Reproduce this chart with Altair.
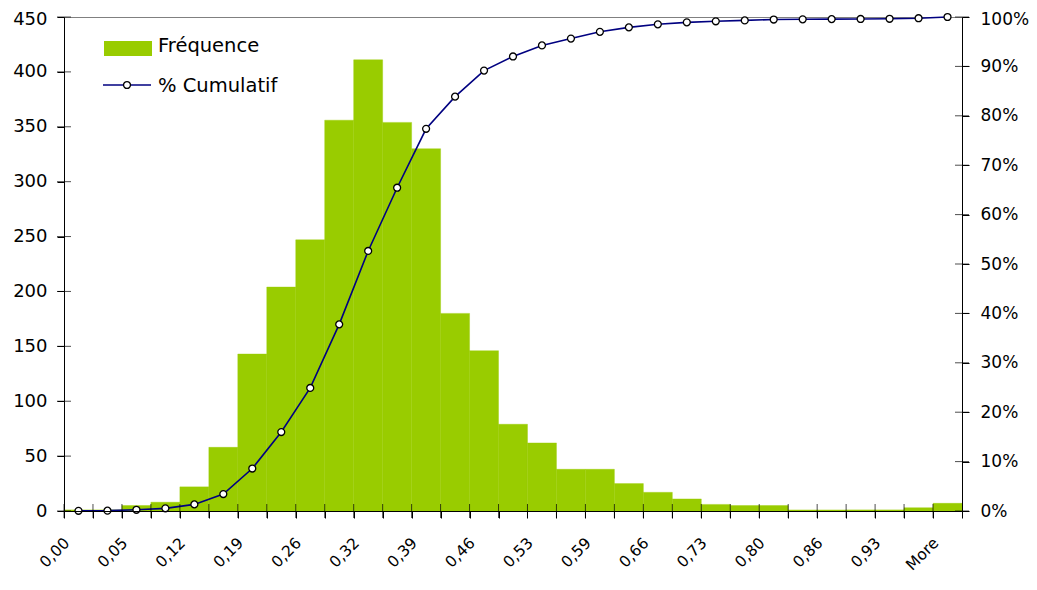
import json
import altair as alt
import pandas as pd

# ---- data ----
bins = ["0,00", "0,02", "0,05", "0,09", "0,12", "0,15", "0,19", "0,22", "0,26", "0,29",
        "0,32", "0,36", "0,39", "0,42", "0,46", "0,49", "0,53", "0,56", "0,59", "0,63",
        "0,66", "0,69", "0,73", "0,76", "0,80", "0,83", "0,86", "0,90", "0,93", "0,97", "More"]
shown_labels = ["0,00", "0,05", "0,12", "0,19", "0,26", "0,32", "0,39", "0,46", "0,53",
                "0,59", "0,66", "0,73", "0,80", "0,86", "0,93", "More"]
freq = [1, 1, 5, 8, 22, 58, 143, 204, 247, 356, 411, 354, 330, 180, 146, 79, 62, 38, 38,
        25, 17, 11, 6, 5, 5, 1, 1, 1, 1, 3, 7]
cum_pct = [0.0004, 0.0007, 0.0025, 0.0054, 0.0134, 0.0343, 0.0860, 0.1598, 0.2491, 0.3778,
           0.5264, 0.6544, 0.7737, 0.8388, 0.8915, 0.9201, 0.9425, 0.9563, 0.9700, 0.9790,
           0.9852, 0.9892, 0.9913, 0.9931, 0.9949, 0.9953, 0.9957, 0.9960, 0.9964, 0.9975, 1.0]
count_ticks = [0, 50, 100, 150, 200, 250, 300, 350, 400, 450]
pct_ticks = [i / 10 for i in range(11)]
legend_labels = ["Fréquence", "% Cumulatif"]

FONT = "DejaVu Sans"
GREEN = "#99CC00"
NAVY = "#000080"
W, H = 898, 494

df = pd.DataFrame({"bin": bins, "freq": freq, "cum": cum_pct})
df_ct = pd.DataFrame({"v": count_ticks})
df_pt = pd.DataFrame({"v": pct_ticks})

xscale = alt.Scale(type="band", domain=bins, paddingInner=0, paddingOuter=0)
yscale = alt.Scale(domain=[0, 450], nice=False, zero=True)
pscale = alt.Scale(domain=[0, 1], nice=False, zero=True)

label_expr = "indexof(%s, datum.value) >= 0 ? datum.label : ''" % json.dumps(shown_labels)
x_axis = alt.Axis(title=None, labelExpr=label_expr, labelAngle=315, labelAlign="right",
                  labelBaseline="top", labelFont=FONT, labelFontSize=15.5, labelColor="black",
                  labelPadding=17, labelOffset=-17, labelOverlap=False, tickBand="extent",
                  tickSize=7, tickColor="black", tickWidth=1, domainColor="black",
                  domainWidth=1, zindex=1)
y_axis = alt.Axis(title=None, orient="left", values=count_ticks, labelFont=FONT,
                  labelFontSize=18, labelColor="black", labelPadding=10, tickSize=7,
                  labelOffset=alt.condition("datum.value == 450", alt.value(2.5), alt.value(0)),
                  tickColor="black", domainColor="black", grid=False, zindex=1)
p_axis = alt.Axis(title=None, orient="right", values=pct_ticks, format=".0%",
                  labelFont=FONT, labelFontSize=17, labelColor="black", labelPadding=11,
                  labelOffset=alt.condition("datum.value == 1", alt.value(2), alt.value(0)),
                  tickSize=7, tickColor="black", domainColor="black", grid=False, zindex=1)

X = alt.X("bin:N", scale=xscale, axis=x_axis, sort=bins)

bars = alt.Chart(df).mark_bar(color=GREEN, stroke=GREEN, strokeWidth=0.4).encode(
    x=X, y=alt.Y("freq:Q", scale=yscale, axis=y_axis))

line = alt.Chart(df).mark_line(color=NAVY, strokeWidth=1.6).encode(
    x=X, y=alt.Y("cum:Q", scale=pscale, axis=p_axis))

points = alt.Chart(df).mark_point(shape="circle", filled=True, fill="white", stroke="black",
                                  strokeWidth=1.3, size=48, opacity=1).encode(
    x=X, y=alt.Y("cum:Q", scale=pscale, axis=None))

# inward halves of the crossing ticks
lt = alt.Chart(df_ct).mark_tick(orient="horizontal", color="black", size=14, thickness=1).encode(
    y=alt.Y("v:Q", scale=yscale, axis=None), x=alt.value(0))
rt = alt.Chart(df_pt).mark_tick(orient="horizontal", color="black", size=14, thickness=1).encode(
    y=alt.Y("v:Q", scale=pscale, axis=None), x=alt.value(W))
bt = alt.Chart(df).mark_tick(orient="vertical", color="black", size=14, thickness=1).encode(
    x=alt.X("bin:N", scale=xscale, axis=x_axis, sort=bins, bandPosition=0), y=alt.value(H))

# legend
leg1 = pd.DataFrame({"t": [legend_labels[0]]})
leg2 = pd.DataFrame({"t": [legend_labels[1]]})
leg_rect = alt.Chart(leg1).mark_rect(color=GREEN).encode(
    x=alt.value(40), x2=alt.value(88), y=alt.value(24), y2=alt.value(39))
leg_text1 = alt.Chart(leg1).mark_text(align="left", baseline="alphabetic", font=FONT,
                                      fontSize=19.5, color="black").encode(
    x=alt.value(94), y=alt.value(35), text="t:N")
leg_line = alt.Chart(leg2).mark_rule(color=NAVY, strokeWidth=1.6).encode(
    x=alt.value(39), x2=alt.value(87), y=alt.value(68))
leg_pt = alt.Chart(leg2).mark_point(shape="circle", filled=True, fill="white", stroke="black",
                                    strokeWidth=1.3, size=48, opacity=1).encode(
    x=alt.value(63), y=alt.value(68))
leg_text2 = alt.Chart(leg2).mark_text(align="left", baseline="alphabetic", font=FONT,
                                      fontSize=19.5, color="black").encode(
    x=alt.value(94), y=alt.value(75), text="t:N")

chart = alt.layer(
    bars, line, points, lt, rt, bt, leg_rect, leg_text1, leg_line, leg_pt, leg_text2
).resolve_scale(y="independent").properties(
    width=W, height=H,
    autosize=alt.AutoSizeParams(type="none"),
    padding={"left": 56, "top": 9, "right": 67, "bottom": 65},
    background="white",
).configure_view(stroke="#808080", strokeWidth=1)

chart.save("out.html", embed_options={"renderer": "svg", "actions": False})
